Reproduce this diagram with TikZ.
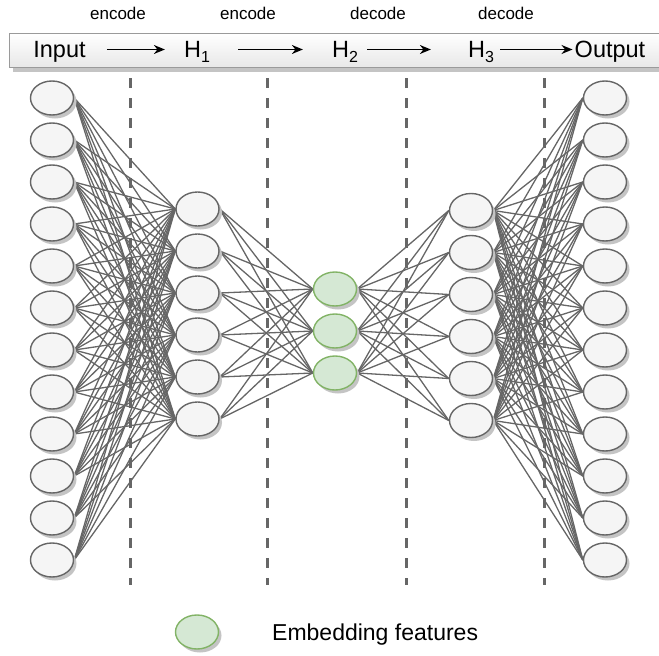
\documentclass[tikz,border=0pt]{standalone}
\usepackage{fontspec}
\setmainfont{Liberation Sans}
\usetikzlibrary{shapes.geometric,shadows,arrows.meta}
\definecolor{nodefill}{HTML}{F5F5F5}
\definecolor{nodeline}{HTML}{666666}
\definecolor{greenfill}{HTML}{D5E8D4}
\definecolor{greenline}{HTML}{82B366}
\definecolor{shadowgray}{HTML}{C4C4C4}
\definecolor{barline}{HTML}{9A9A9A}
\newcommand{\lowsub}[1]{\raisebox{-0.45ex}{\fontsize{16}{16}\selectfont #1}}
\pgfdeclarelayer{background}
\pgfsetlayers{background,main}
\tikzset{
  neuron/.style={ellipse, draw=nodeline, fill=nodefill, line width=1.4pt,
    minimum width=43pt, minimum height=34pt, inner sep=0pt,
    drop shadow={shadow xshift=3pt, shadow yshift=-3.5pt, fill=shadowgray, opacity=1}},
  embed/.style={neuron, draw=greenline, fill=greenfill},
  link/.style={draw=nodeline, line width=1.3pt},
  sepline/.style={draw=nodeline, line width=3pt, dash pattern=on 10pt off 10pt},
  flow/.style={-{Stealth[length=11pt,width=9pt]}, line width=1.3pt, black},
  toplabel/.style={font=\fontsize{17}{17}\selectfont, anchor=base, inner sep=0pt},
  barlabel/.style={font=\fontsize{23.5}{23.5}\selectfont, anchor=base, inner sep=0pt, text height=17pt, text depth=2pt},
}
\begin{document}
\begin{tikzpicture}[x=1pt,y=-1pt]
\useasboundingbox (0,0) rectangle (659,656);
% top bar
\fill[shadowgray] (13,38) rectangle (680,72);
\draw[barline, line width=1pt, top color=white, bottom color=black!9] (9,33) rectangle (680,67);
% labels
\node[toplabel] (enc1) at (118,19) {encode};
\node[toplabel] (enc2) at (248,19) {encode};
\node[toplabel] (dec1) at (378,19) {decode};
\node[toplabel] (dec2) at (506,19) {decode};
\node[barlabel] (tin) at (59.5,57) {Input};
\node[barlabel] (th1) at (197,57) {H\lowsub{1}};
\node[barlabel] (th2) at (345,57) {H\lowsub{2}};
\node[barlabel] (th3) at (481,57) {H\lowsub{3}};
\node[barlabel] (tout) at (610,57) {Output};
\draw[flow] ([xshift=21pt]tin.east) -- ([xshift=-19pt]th1.west);
\draw[flow] ([xshift=28pt]th1.east) -- ([xshift=-29pt]th2.west);
\draw[flow] ([xshift=9pt]th2.east) -- ([xshift=-37pt]th3.west);
\draw[flow] ([xshift=6pt]th3.east) -- ([xshift=-2pt]tout.west);
% neurons
\foreach \i in {1,...,12} \node[neuron] (i\i) at (52,{98+42*(\i-1)}) {};
\foreach \i in {1,...,6} \node[neuron] (a\i) at (197.5,{209+42*(\i-1)}) {};
\foreach \i in {1,...,3} \node[embed] (e\i) at (335,{289+42*(\i-1)}) {};
\foreach \i in {1,...,6} \node[neuron] (b\i) at (471,{210.5+42*(\i-1)}) {};
\foreach \i in {1,...,12} \node[neuron] (o\i) at (605,{98+42*(\i-1)}) {};
% separators
\foreach \x/\n in {130/1,267/2,406/3,544/4} {
  \coordinate (st\n) at (\x,78);
  \coordinate (sb\n) at (\x,585);
}
\begin{pgfonlayer}{background}
\foreach \n in {1,...,4} \draw[sepline] (st\n) -- (sb\n);
\foreach \i in {1,...,12} \foreach \j in {1,...,6} \draw[link] (i\i.east) -- (a\j.west);
\foreach \i in {1,...,6} \foreach \j in {1,...,3} \draw[link] (a\i.east) -- (e\j.west);
\foreach \i in {1,...,3} \foreach \j in {1,...,6} \draw[link] (e\i.east) -- (b\j.west);
\foreach \i in {1,...,6} \foreach \j in {1,...,12} \draw[link] (b\i.east) -- (o\j.west);
\end{pgfonlayer}
% legend
\node[embed] (leg) at (197,632) {};
\node[font=\fontsize{23}{23}\selectfont, anchor=base west, inner sep=0pt] (legtext) at (272,640) {Embedding features};
\end{tikzpicture}
\end{document}
